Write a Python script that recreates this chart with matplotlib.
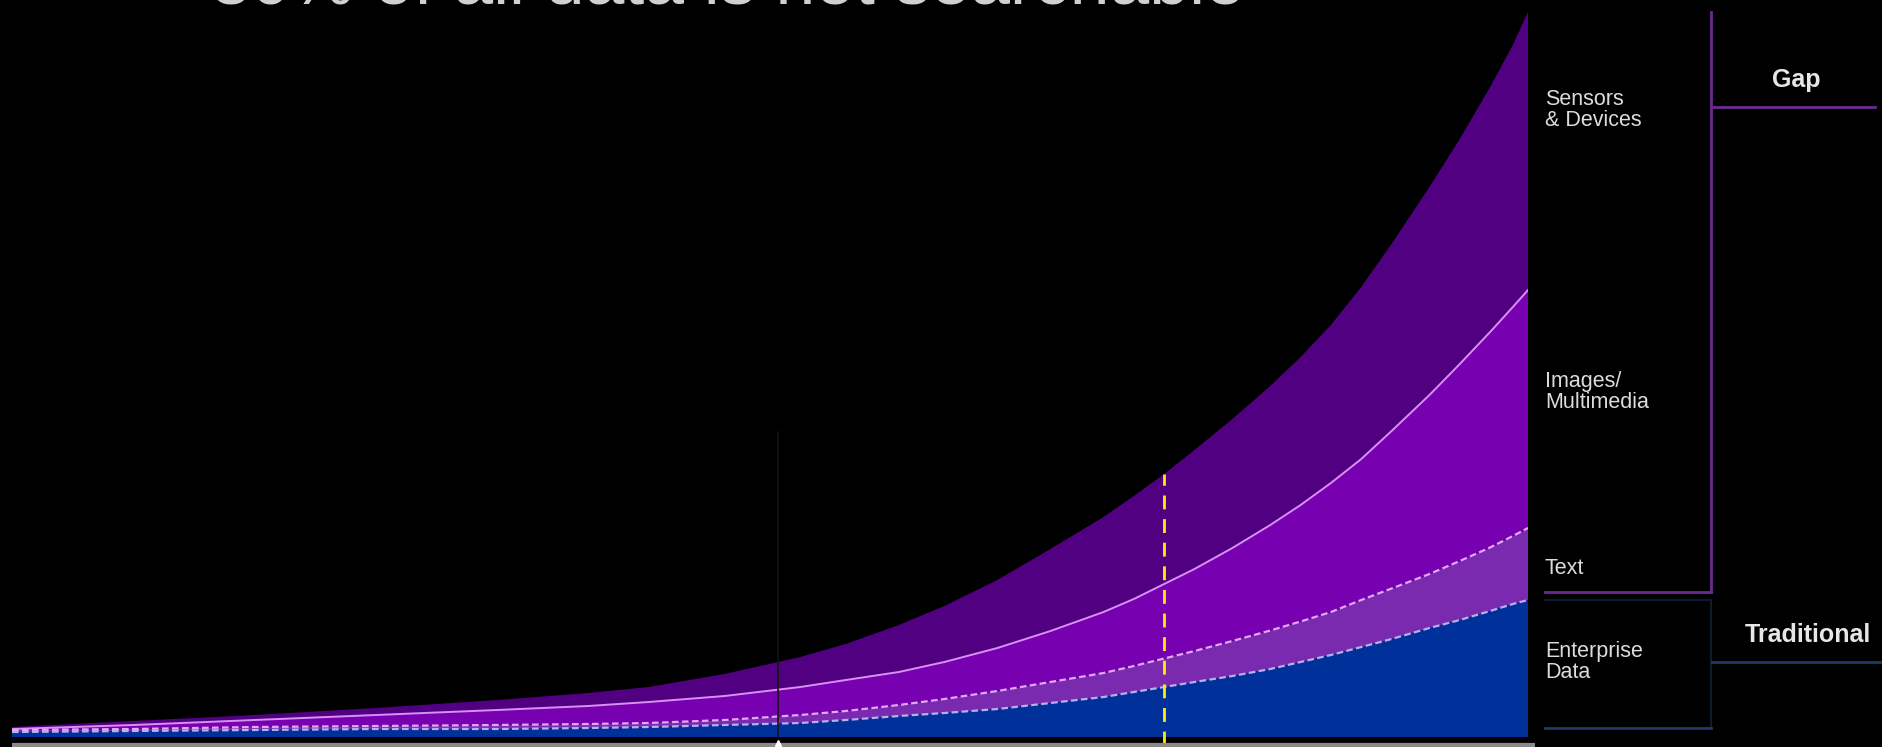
import matplotlib
matplotlib.use("Agg")
import matplotlib.pyplot as plt

# relative time axis (0 = start of chart, 100 = today)
x = [0, 8, 16, 24, 32, 38, 42, 47, 52, 55, 58.5, 61.5, 65, 68.5, 72, 74, 76,
     78, 80.5, 83, 85, 87, 89, 91, 93.5, 95.5, 97.5, 99, 100]

# cumulative tops of each layer (arbitrary volume units)
enterprise_top = [5, 6, 7, 8, 8, 9, 10, 12, 14, 17, 21, 24, 28, 34, 40, 45, 50,
                  55, 61, 68, 75, 82, 90, 98, 109, 117, 126, 133, 137]
text_top = [7, 8, 10, 11, 12, 13, 14, 17, 22, 26, 32, 38, 46, 55, 64, 71, 78.5,
            86, 96, 106.5, 115.5, 125, 137, 148.5, 163, 176, 189.5, 201, 209]
images_top = [8, 12, 17, 22, 27, 31, 35, 41, 50, 57, 65, 75, 89, 106, 125, 138, 153,
              168, 189, 212, 232, 254, 278, 306, 342, 373, 405, 430, 447]
sensors_top = [10, 16, 22, 29, 37, 44, 50, 63, 80, 93, 112, 131, 157, 188, 220, 241, 263,
               287, 318, 351, 380, 412, 450, 493, 550, 598, 650, 692, 725]

enterprise = enterprise_top
text = [t - e for t, e in zip(text_top, enterprise_top)]
images = [i - t for i, t in zip(images_top, text_top)]
sensors = [s - i for s, i in zip(sensors_top, images_top)]

layer_colors = ["#00309a", "#7a2aae", "#7700b0", "#520082"]
marker_x = 76
faint_x = 50.5

plt.rcParams["font.family"] = ["Liberation Sans", "DejaVu Sans"]

fig = plt.figure(figsize=(18.83, 7.47), dpi=100, facecolor="black")
ax = fig.add_axes([12 / 1883, 10 / 747, 1516 / 1883, 725 / 747])
ax.set_facecolor("black")
ax.set_xlim(0, 100)
ax.set_ylim(0, 725)
ax.axis("off")

ax.stackplot(x, enterprise, text, images, sensors, colors=layer_colors, linewidth=0)

# boundary lines between the layers
ax.plot(x, images_top, color="#d890f2", lw=1.4)
ax.plot(x, text_top, color="#e3a6f5", lw=1.6, dashes=(3, 1.5))
ax.plot(x, enterprise_top, color="#b4b0f2", lw=1.6, dashes=(3, 1.5))

# faint vertical marker and yellow "today" line
ax.plot([faint_x, faint_x], [0, 305], color="#141414", lw=1.2)
ax.plot([marker_x, marker_x], [-8, sensors_top[x.index(marker_x)]],
        color="#ffee00", lw=2, dashes=(5, 3.5), clip_on=False)

# overlay in pixel coordinates for the side annotations
ov = fig.add_axes([0, 0, 1, 1], facecolor="none")
ov.set_xlim(0, 1883)
ov.set_ylim(747, 0)
ov.axis("off")

# axis line at the bottom
ov.plot([12, 1535], [745, 745], color="#8a8a8a", lw=3, solid_capstyle="butt")
ov.plot([778], [743], marker="^", color="white", markersize=5)

lab = dict(color="#dcdcdc", fontsize=15.5, ha="left", va="center", linespacing=1.05)
ov.text(1545, 110, "Sensors\n& Devices", **lab)
ov.text(1545, 392, "Images/\nMultimedia", **lab)
ov.text(1545, 568, "Text", **lab)
ov.text(1545, 662, "Enterprise\nData", **lab)

# bracket for the "Gap" group
purple = "#6c2a8e"
ov.plot([1711, 1711], [12, 592], color=purple, lw=2)
ov.plot([1545, 1711], [592, 592], color=purple, lw=2)
ov.plot([1712, 1875], [107, 107], color=purple, lw=2)
ov.text(1796, 80, "Gap", color="#e6e6e6", fontsize=18, fontweight="bold", ha="center", va="center")

# bracket for the "Traditional" group
blue = "#1d3b66"
ov.plot([1545, 1711], [600, 600], color="#0f1a2c", lw=1.5)
ov.plot([1711, 1711], [600, 728], color="#0f1a2c", lw=1.5)
ov.plot([1545, 1711], [728, 728], color=blue, lw=2)
ov.plot([1712, 1880], [662, 662], color=blue, lw=2)
ov.text(1808, 635, "Traditional", color="#e6e6e6", fontsize=18, fontweight="bold", ha="center", va="center")

# title, cropped at the top of the frame as in the source slide
fig.text(211 / 1883, 1 - 3 / 747, "80% of all data is not searchable", color="#d0d0d0",
         fontsize=51.5, ha="left", va="baseline")

fig.savefig("out.png", dpi=100, facecolor="black")
